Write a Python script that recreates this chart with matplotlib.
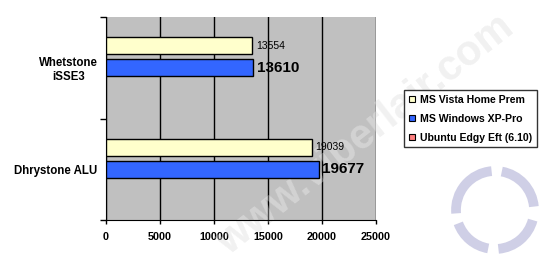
import matplotlib.pyplot as plt
import numpy as np
from matplotlib.patches import Arc

plt.rcParams['font.family'] = ['Liberation Sans', 'DejaVu Sans']

# data
tests = ["Dhrystone ALU", "Whetstone\niSSE3"]
series = ["MS Vista Home Prem", "MS Windows XP-Pro", "Ubuntu Edgy Eft (6.10)"]
vista = [19039, 13554]
xp = [19677, 13610]
ubuntu = [0, 0]  # no results for Ubuntu
colors = ["#FFFFCC", "#3366FF", "#FF8080"]

fig = plt.figure(figsize=(5.5, 2.66), dpi=100)
fig.patch.set_facecolor("white")

# background layer: watermark + logo
fig_ax = fig.add_axes([0, 0, 1, 1], zorder=-1)
fig_ax.set_xlim(0, 550)
fig_ax.set_ylim(266, 0)
fig_ax.axis("off")
wm = dict(fontsize=30, fontweight="bold", rotation=38, ha="center", va="center")
fig_ax.text(365, 135, "www.viperlair.com", color="#000000", alpha=0.08, **wm)
for t1, t2 in [(100, 160), (175, 265), (280, 355), (15, 85)]:
    fig_ax.add_patch(Arc((495, 210), 78, 78, theta1=t1, theta2=t2,
                         lw=7, color="#CFCFE6"))

ax = fig.add_axes([106/550, 1 - 220/266, 270/550, 203/266])
ax.set_facecolor("#C0C0C0")

# watermark over the grey plot area shows lighter
t = ax.text(365/550, 1 - 135/266, "www.viperlair.com", color="white", alpha=0.3,
            transform=fig.transFigure, zorder=2, **wm)
t.set_clip_path(ax.patch)

y = np.arange(len(tests)) + 0.5
off = 0.217
h = 0.165
ax.barh(y + off, vista, height=h, color=colors[0], edgecolor="black", lw=1, zorder=3, label=series[0])
ax.barh(y, xp, height=h, color=colors[1], edgecolor="black", lw=1, zorder=3, label=series[1])
ax.barh(y - off, ubuntu, height=h, color=colors[2], edgecolor="black", lw=0, zorder=3, label=series[2])

for i in range(len(tests)):
    ax.text(vista[i] + 350, y[i] + off, str(vista[i]), va="center", ha="left", fontsize=7.5, zorder=4)
    ax.text(xp[i] + 350, y[i], str(xp[i]), va="center", ha="left", fontsize=11,
            fontweight="bold", zorder=4)

ax.set_xlim(0, 25000)
ax.set_ylim(0, 2)
ax.set_xticks(np.arange(0, 25001, 5000))
ax.set_yticks([0, 1, 2])
ax.set_yticklabels([])
ax.set_yticks(y, minor=True)
ax.set_yticklabels(tests, minor=True, fontsize=8.3, fontweight="bold")
ax.tick_params(axis="y", which="minor", length=0, pad=6)
ax.tick_params(axis="y", which="major", length=4, width=1)
ax.tick_params(axis="x", length=3, width=1, labelsize=7.8, pad=6)
for lab in ax.get_xticklabels():
    lab.set_fontweight("bold")
for lab in ax.get_yticklabels(minor=True):
    lab.set_multialignment("center")

ax.grid(axis="x", color="black", lw=1, zorder=1)
ax.spines["top"].set_visible(False)
ax.spines["right"].set_visible(False)

handles = [plt.Rectangle((0, 0), 1, 1, facecolor=c, edgecolor="black", lw=0.8) for c in colors]
leg = fig.legend(handles, series, loc="upper left", bbox_to_anchor=(404/550, 1 - 90/266),
                 prop={"weight": "bold", "size": 7.6}, frameon=True, fancybox=False,
                 handlelength=0.6, handleheight=0.6, handletextpad=0.45, labelspacing=0.85,
                 borderpad=0.45, borderaxespad=0)
leg.get_frame().set_edgecolor("black")
leg.get_frame().set_linewidth(1)

fig.savefig("out.png", dpi=100, facecolor="white")
